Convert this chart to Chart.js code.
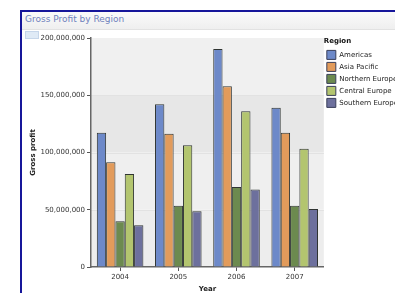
<!DOCTYPE html>
<html>
<head>
<meta charset="utf-8">
<script src="https://cdn.jsdelivr.net/npm/chart.js@4.4.1/dist/chart.umd.min.js"></script>
<style>
  html, body { margin: 0; padding: 0; width: 395px; height: 293px; overflow: hidden; background: #fff; }
  #frame { position: absolute; left: 20px; top: 10px; width: 400px; height: 300px;
           border-left: 2px solid #16169a; border-top: 2px solid #16169a; box-sizing: border-box; }
  #titlebar { position: absolute; left: 22px; top: 12px; width: 380px; height: 17px;
              background: linear-gradient(#fafafa, #efefef); border-bottom: 1px solid #e2e2e2; }
  #title { position: absolute; left: 25px; top: 14px; font: 9px "DejaVu Sans", sans-serif; color: #6f82bd; white-space: nowrap; }
  #icon { position: absolute; left: 25px; top: 31px; width: 12px; height: 6px; background: #dfeaf6; border: 1px solid #c6d6ea; }
  #wrap { position: absolute; left: 0; top: 0; width: 408px; height: 293px; }
</style>
</head>
<body>
<div id="frame"></div>
<div id="titlebar"></div>
<div id="title">Gross Profit by Region</div>
<div id="icon"></div>
<div id="wrap"><canvas id="c"></canvas></div>
<script>
const years = ["2004", "2005", "2006", "2007"];
const regions = ["Americas", "Asia Pacific", "Northern Europe", "Central Europe", "Southern Europe"];
const americas       = [117300000, 142200000, 190300000, 139000000];
const asiaPacific    = [91500000, 116400000, 157800000, 117300000];
const northernEurope = [39900000, 53400000, 69800000, 53400000];
const centralEurope  = [81200000, 106400000, 136000000, 103200000];
const southernEurope = [36400000, 48700000, 67700000, 50700000];
const yTicks = [0, 50000000, 100000000, 150000000, 200000000];

const seriesValues = [americas, asiaPacific, northernEurope, centralEurope, southernEurope];
const fills = ["#6d89c9", "#e29b5b", "#6c8a4f", "#b3c56f", "#6d709d"];

const bandPlugin = {
  id: 'bands',
  beforeDraw(chart) {
    const {ctx, chartArea: a, scales: {y}} = chart;
    const bandCols = ["#ededed", "#efefef", "#e7e7e7", "#f0f0f0"];
    ctx.save();
    for (let i = 0; i < yTicks.length - 1; i++) {
      const y0 = y.getPixelForValue(yTicks[i]);
      const y1 = y.getPixelForValue(yTicks[i + 1]);
      ctx.fillStyle = bandCols[i];
      ctx.fillRect(a.left, y1, a.right - a.left, y0 - y1);
    }
    ctx.strokeStyle = "#e2e2e2";
    ctx.lineWidth = 1;
    for (let i = 1; i < yTicks.length - 1; i++) {
      const yy = Math.round(y.getPixelForValue(yTicks[i])) + 0.5;
      ctx.beginPath(); ctx.moveTo(a.left, yy); ctx.lineTo(a.right, yy); ctx.stroke();
    }
    ctx.restore();
  }
};

const font = {family: "DejaVu Sans", size: 7};
new Chart(document.getElementById('c'), {
  type: 'bar',
  data: {
    labels: years,
    datasets: regions.map((r, i) => ({
      label: r,
      data: seriesValues[i],
      backgroundColor: fills[i],
      borderColor: "#2f3432",
      borderWidth: 1,
      categoryPercentage: 0.8,
      barPercentage: 1.0
    }))
  },
  options: {
    responsive: true,
    maintainAspectRatio: false,
    animation: false,
    devicePixelRatio: 1,
    layout: {padding: {left: 25, top: 38, right: 0, bottom: 0}},
    plugins: {
      tooltip: {enabled: false},
      legend: {
        position: 'right',
        align: 'start',
        title: {display: true, position: 'start', text: 'Region', font: {family: "DejaVu Sans", size: 7, weight: 'bold'}, color: '#111', padding: {top: 0, bottom: 1}},
        labels: {boxWidth: 9, boxHeight: 9, padding: 3, font: font, color: '#222',
          generateLabels(chart) {
            return chart.data.datasets.map((d, i) => ({
              text: d.label, fillStyle: fills[i], strokeStyle: '#3a3f5a', lineWidth: 1,
              hidden: false, datasetIndex: i, fontColor: '#222'
            }));
          }
        }
      }
    },
    scales: {
      x: {
        grid: {offset: false, drawOnChartArea: false, color: '#555', tickLength: 4},
        border: {color: '#666', width: 1.5},
        ticks: {font: font, color: '#333', padding: 2},
        title: {display: true, text: 'Year', font: {family: "DejaVu Sans", size: 7, weight: 'bold'}, color: '#222', padding: {top: 1, bottom: 0}},
        afterFit(s) { s.height = 26; }
      },
      y: {
        min: 0, max: 200000000,
        afterBuildTicks(s) { s.ticks = yTicks.map(v => ({value: v})); },
        grid: {color: '#e2e2e2', tickColor: '#555', tickLength: 4, drawOnChartArea: false},
        border: {color: '#666', width: 1.5},
        ticks: {font: font, color: '#333', padding: 2,
          callback: v => v.toLocaleString('en-US')},
        title: {display: true, text: 'Gross profit', font: {family: "DejaVu Sans", size: 7, weight: 'bold'}, color: '#222', padding: {top: 4, bottom: 4}},
        afterFit(s) { s.width = 66; }
      }
    }
  },
  plugins: [bandPlugin]
});
</script>
</body>
</html>
